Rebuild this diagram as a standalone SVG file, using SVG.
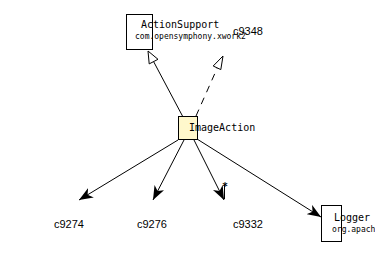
<svg xmlns="http://www.w3.org/2000/svg" width="375" height="255" viewBox="0 0 375 255">
  <style>
    .box { fill: #ffffff; stroke: #000000; stroke-width: 1; }
    .focus { fill: #fff8cc; stroke: #000000; stroke-width: 1; }
    .name { font-family: "DejaVu Sans Mono", "Liberation Mono", monospace; font-size: 10px; fill: #000000; }
    .pkg { font-family: "DejaVu Sans Mono", "Liberation Mono", monospace; font-size: 8px; fill: #000000; }
    .mult { font-family: "DejaVu Sans Mono", "Liberation Mono", monospace; font-size: 10px; font-weight: bold; fill: #000000; }
    .ref { font-family: "Liberation Sans", Arial, sans-serif; font-size: 11px; fill: #000000; }
    .edge { fill: none; stroke: #000000; stroke-width: 1; }
    .dashed { stroke-dasharray: 7 6; }
    .hollow { fill: #ffffff; stroke: #000000; stroke-width: 1; }
  </style>
  <defs>
    <marker id="assoc" viewBox="0 0 14 11" refX="14" refY="5.5" markerWidth="14" markerHeight="11" markerUnits="userSpaceOnUse" orient="auto">
      <path d="M0,0 L14,5.5 L0,11 L4,5.5 z" fill="#000000"/>
    </marker>
  </defs>

  <rect width="375" height="255" fill="#ffffff"/>

  <!-- connectors -->
  <g id="connectors">
    <!-- generalization to ActionSupport -->
    <line class="edge" x1="183" y1="117" x2="153.6" y2="61.6"/>
    <polygon class="hollow" points="148,51 158,59.3 149.2,63.9"/>
    <!-- realization to c9348 -->
    <line class="edge dashed" x1="196" y1="116" x2="217.5" y2="67.5"/>
    <polygon class="hollow" points="223,56 220.8,69.6 213.2,66"/>
    <!-- associations -->
    <line class="edge" x1="178" y1="140" x2="79" y2="200" marker-end="url(#assoc)"/>
    <line class="edge" x1="184" y1="140" x2="153" y2="200" marker-end="url(#assoc)"/>
    <line class="edge" x1="194" y1="140" x2="224" y2="200" marker-end="url(#assoc)"/>
    <line class="edge" x1="197" y1="139" x2="321" y2="217" marker-end="url(#assoc)"/>
    <!-- multiplicity on c9332 -->
    <line class="edge" x1="224.5" y1="185" x2="224.5" y2="199"/>
    <text class="mult" x="222" y="190">*</text>
  </g>

  <!-- nodes -->
  <g id="ActionSupport">
    <rect class="box" x="126.5" y="14.5" width="26" height="35"/>
    <text class="name" x="141" y="28">ActionSupport</text>
    <text class="pkg" x="135" y="39">com.opensymphony.xwork2</text>
  </g>

  <g id="c9348">
    <text class="ref" x="233" y="35">c9348</text>
  </g>

  <g id="ImageAction">
    <rect class="focus" x="178.5" y="116.5" width="19" height="23"/>
    <text class="name" x="189" y="131">ImageAction</text>
  </g>

  <g id="c9274">
    <text class="ref" x="54" y="228">c9274</text>
  </g>

  <g id="c9276">
    <text class="ref" x="137" y="228">c9276</text>
  </g>

  <g id="c9332">
    <text class="ref" x="233" y="228">c9332</text>
  </g>

  <g id="Logger">
    <rect class="box" x="321.5" y="205.5" width="20" height="36"/>
    <text class="name" x="334" y="221">Logger</text>
    <text class="pkg" x="332" y="232">org.apach</text>
  </g>
</svg>
